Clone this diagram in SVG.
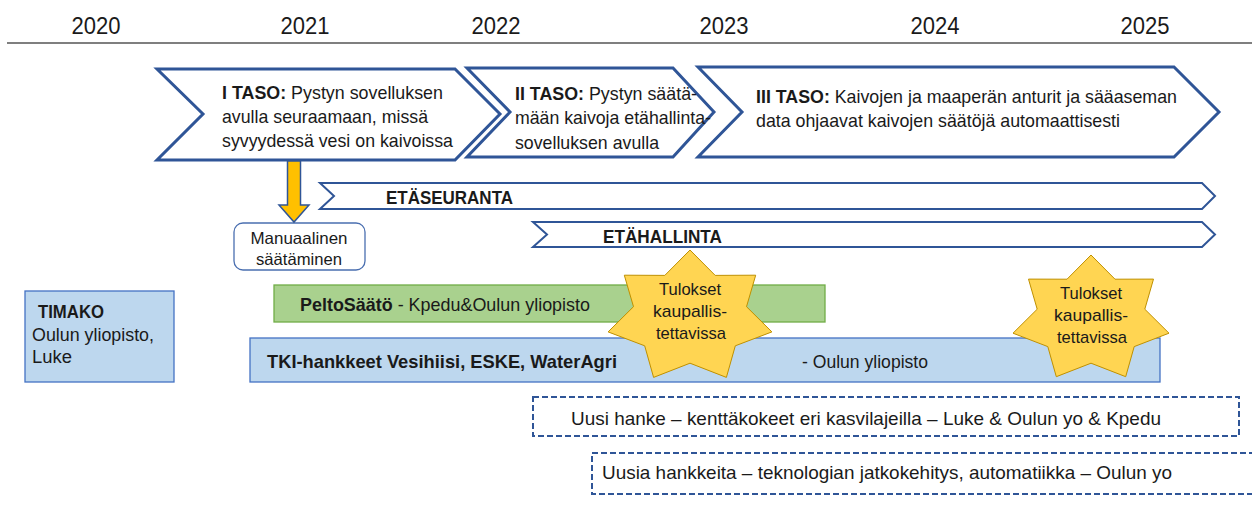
<svg xmlns="http://www.w3.org/2000/svg" width="1252" height="524" viewBox="0 0 1252 524">
<style>
text{font-family:"Liberation Sans Narrow","Arial Narrow","Liberation Sans",Arial,sans-serif;fill:#1a1a1a}
.b{font-weight:bold}
.yr{font-size:24px;text-anchor:middle}
.chev{fill:#fff;stroke:#2F5597;stroke-width:3;stroke-linejoin:miter}
.band{fill:#fff;stroke:#2F5597;stroke-width:2}
.ct{font-size:19px}
.blue{fill:#BDD7EE;stroke:#4472C4;stroke-width:1.3}
.green{fill:#A9D18E;stroke:#70AD47;stroke-width:1.3}
.star{fill:#FFD552;stroke:#BF9000;stroke-width:1}
.st{font-size:17px;text-anchor:middle}
.dash{fill:#fff;stroke:#2F5597;stroke-width:2;stroke-dasharray:6 3}
.t{font-size:19px}
</style>
<rect width="1252" height="524" fill="#fff"/>
<g id="timeline">
<line x1="7" y1="43" x2="1252" y2="43" stroke="#7F7F7F" stroke-width="2"/>
<text class="yr" x="96" y="34" textLength="49" lengthAdjust="spacingAndGlyphs">2020</text>
<text class="yr" x="305" y="34" textLength="49" lengthAdjust="spacingAndGlyphs">2021</text>
<text class="yr" x="496" y="34" textLength="49" lengthAdjust="spacingAndGlyphs">2022</text>
<text class="yr" x="724" y="34" textLength="49" lengthAdjust="spacingAndGlyphs">2023</text>
<text class="yr" x="935" y="34" textLength="49" lengthAdjust="spacingAndGlyphs">2024</text>
<text class="yr" x="1145" y="34" textLength="49" lengthAdjust="spacingAndGlyphs">2025</text>
</g>
<g id="taso1">
<polygon class="chev" points="157,69 455,69 500,114 455,160 157,160 203,114"/>
<text class="ct" x="222" y="99" textLength="221" lengthAdjust="spacingAndGlyphs"><tspan class="b">I TASO:</tspan> Pystyn sovelluksen</text>
<text class="ct" x="222" y="123" textLength="206" lengthAdjust="spacingAndGlyphs">avulla seuraamaan, missä</text>
<text class="ct" x="222" y="147" textLength="231" lengthAdjust="spacingAndGlyphs">syvyydessä vesi on kaivoissa</text>
</g>
<g id="taso2">
<polygon class="chev" points="467,68 673,68 714,112 673,157 467,157 510,112"/>
<text class="ct" x="515" y="100" textLength="182" lengthAdjust="spacingAndGlyphs"><tspan class="b">II TASO:</tspan> Pystyn säätä-</text>
<text class="ct" x="515" y="124" textLength="196" lengthAdjust="spacingAndGlyphs">mään kaivoja etähallinta-</text>
<text class="ct" x="515" y="149" textLength="144" lengthAdjust="spacingAndGlyphs">sovelluksen avulla</text>
</g>
<g id="taso3">
<polygon class="chev" points="698,67 1174,67 1219,112 1174,157 698,157 742,112"/>
<text class="ct" x="756" y="103" textLength="421" lengthAdjust="spacingAndGlyphs"><tspan class="b">III TASO:</tspan> Kaivojen ja maaperän anturit ja sääaseman</text>
<text class="ct" x="756" y="127" textLength="364" lengthAdjust="spacingAndGlyphs">data ohjaavat kaivojen säätöjä automaattisesti</text>
</g>
<g id="etaseuranta">
<polygon class="band" points="320,183 1202,183 1215,196 1202,209 320,209 334,196"/>
<text class="b" x="386" y="204" font-size="19" textLength="127" lengthAdjust="spacingAndGlyphs">ETÄSEURANTA</text>
</g>
<g id="etahallinta">
<polygon class="band" points="533,222 1202,222 1215,234.5 1202,247 533,247 547,234.5"/>
<text class="b" x="603" y="243" font-size="19" textLength="119" lengthAdjust="spacingAndGlyphs">ETÄHALLINTA</text>
</g>
<g id="manuaalinen">
<rect x="234" y="223" width="131" height="47" rx="9" fill="#fff" stroke="#4A6FB0" stroke-width="1.3"/>
<text x="299" y="244" font-size="16.5" text-anchor="middle" textLength="97" lengthAdjust="spacingAndGlyphs">Manuaalinen</text>
<text x="299" y="265" font-size="16.5" text-anchor="middle" textLength="86" lengthAdjust="spacingAndGlyphs">säätäminen</text>
</g>
<g id="timako">
<rect class="blue" x="25" y="291" width="149" height="91"/>
<text class="b" x="38" y="318" font-size="18" textLength="66" lengthAdjust="spacingAndGlyphs">TIMAKO</text>
<text x="32" y="341" font-size="18" textLength="122" lengthAdjust="spacingAndGlyphs">Oulun yliopisto,</text>
<text x="32" y="363" font-size="18" textLength="40" lengthAdjust="spacingAndGlyphs">Luke</text>
</g>
<g id="peltosaato">
<rect class="green" x="274" y="285" width="551" height="37"/>
<text x="300" y="311" font-size="19" textLength="290" lengthAdjust="spacingAndGlyphs"><tspan class="b">PeltoSäätö</tspan>  - Kpedu&amp;Oulun yliopisto</text>
</g>
<g id="tki">
<rect class="blue" x="250" y="338" width="910" height="44"/>
<text class="b" x="267" y="368" font-size="19" textLength="350" lengthAdjust="spacingAndGlyphs">TKI-hankkeet Vesihiisi,  ESKE, WaterAgri</text>
<text x="802" y="368" font-size="19" textLength="126" lengthAdjust="spacingAndGlyphs">- Oulun yliopisto</text>
</g>
<g id="tulokset1">
<polygon class="star" points="690,250 715.2,275.4 755.7,275.2 746.5,306.7 771.9,331.9 735.3,345.8 726.4,377.4 690,363.2 653.6,377.4 644.7,345.8 608.1,331.9 633.5,306.7 624.3,275.2 664.8,275.4"/>
<text class="st" x="690" y="295" textLength="62" lengthAdjust="spacingAndGlyphs">Tulokset</text>
<text class="st" x="690" y="317" textLength="74" lengthAdjust="spacingAndGlyphs">kaupallis-</text>
<text class="st" x="691" y="339" textLength="70" lengthAdjust="spacingAndGlyphs">tettavissa</text>
</g>
<g id="tulokset2">
<polygon class="star" points="1091,255 1115,279.2 1153.5,279.1 1144.8,309.2 1169,333.2 1134.2,346.6 1125.7,376.7 1091,363.2 1056.3,376.7 1047.8,346.6 1013,333.2 1037.2,309.2 1028.5,279.1 1067,279.2"/>
<text class="st" x="1091" y="299" textLength="62" lengthAdjust="spacingAndGlyphs">Tulokset</text>
<text class="st" x="1091" y="321" textLength="74" lengthAdjust="spacingAndGlyphs">kaupallis-</text>
<text class="st" x="1092" y="343" textLength="70" lengthAdjust="spacingAndGlyphs">tettavissa</text>
</g>
<g id="uusi-hanke">
<rect class="dash" x="533" y="397" width="706" height="39"/>
<text class="t" x="571" y="425" textLength="590" lengthAdjust="spacingAndGlyphs">Uusi hanke – kenttäkokeet eri kasvilajeilla  – Luke &amp; Oulun yo &amp; Kpedu</text>
</g>
<g id="uusia-hankkeita">
<rect class="dash" x="592" y="453" width="670" height="41"/>
<text class="t" x="602" y="479" textLength="570" lengthAdjust="spacingAndGlyphs">Uusia hankkeita – teknologian jatkokehitys, automatiikka – Oulun yo</text>
</g>
<g id="connectors">
<polygon points="287.5,161 300.5,161 300.5,205 309,205 294,222 279,205 287.5,205" fill="#FFC000" stroke="#2F5597" stroke-width="1.5" stroke-linejoin="miter"/>
</g>
</svg>
